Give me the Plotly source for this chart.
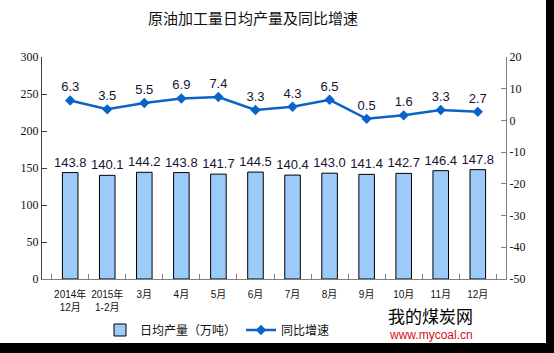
import plotly.graph_objects as go

categories = ["2014年<br>12月", "2015年<br>1-2月", "3月", "4月", "5月", "6月",
              "7月", "8月", "9月", "10月", "11月", "12月"]
daily_output = [143.8, 140.1, 144.2, 143.8, 141.7, 144.5, 140.4, 143.0, 141.4, 142.7, 146.4, 147.8]
yoy_growth = [6.3, 3.5, 5.5, 6.9, 7.4, 3.3, 4.3, 6.5, 0.5, 1.6, 3.3, 2.7]
left_ticks = [0, 50, 100, 150, 200, 250, 300]
right_ticks = [-50, -40, -30, -20, -10, 0, 10, 20]

W, H = 554, 353
L, R, T, B = 42, 48, 57, 74
pw, ph = W - L - R, H - T - B

def px(x):
    return (x - L) / pw

def py(y):
    return (H - B - y) / ph

fig = go.Figure()
fig.add_trace(go.Bar(
    x=categories, y=daily_output, name="日均产量（万吨）",
    marker=dict(color="#9CCBFA", line=dict(color="#000000", width=1)),
    width=0.42,
    text=[f"{v:.1f}" for v in daily_output], textposition="outside",
    constraintext="none",
    textfont=dict(family="Arial, Liberation Sans", size=13, color="#141433"),
    cliponaxis=False,
))
fig.add_trace(go.Scatter(
    x=categories, y=yoy_growth, name="同比增速", yaxis="y2",
    mode="lines+markers+text",
    line=dict(color="#0A64C8", width=2.5),
    marker=dict(symbol="diamond", size=8, color="#0A64C8"),
    text=[f"{v:.1f}" for v in yoy_growth], textposition="top center",
    textfont=dict(family="Arial, Liberation Sans", size=13, color="#141433"),
    cliponaxis=False,
))

fig.update_layout(
    width=W, height=H,
    margin=dict(l=L, r=R, t=T, b=B, autoexpand=False),
    paper_bgcolor="#000000",
    plot_bgcolor="rgba(0,0,0,0)",
    title=dict(text="原油加工量日均产量及同比增速", x=px(254), xanchor="center",
               y=1 - 19 / H, yanchor="middle",
               font=dict(family="Noto Sans CJK SC", size=15, color="#111111")),
    xaxis=dict(showline=True, linecolor="#808080", linewidth=1,
               ticks="inside", tickson="boundaries", ticklen=5, tickcolor="#808080",
               tickangle=0, ticklabelstandoff=6, automargin=False,
               tickfont=dict(family="Liberation Sans, Noto Sans CJK SC", size=10, color="#111111"),
               showgrid=False),
    yaxis=dict(range=[0, 300], tickvals=left_ticks, showline=True, linecolor="#404040",
               ticks="inside", ticklen=5, tickcolor="#404040", showgrid=False, zeroline=False,
               automargin=False,
               tickfont=dict(family="Liberation Serif", size=12, color="#111111")),
    yaxis2=dict(range=[-50, 20], tickvals=right_ticks, ticktext=[str(v) for v in right_ticks],
                overlaying="y", side="right", automargin=False,
                showline=True, linecolor="#808080", ticks="inside", ticklen=5,
                tickcolor="#808080", showgrid=False, zeroline=False,
                tickfont=dict(family="Liberation Serif", size=12, color="#111111")),
    legend=dict(orientation="h", x=px(100), y=py(330), xanchor="left", yanchor="middle",
                font=dict(family="Noto Sans CJK SC", size=12, color="#111111"),
                bgcolor="rgba(0,0,0,0)"),
    shapes=[dict(type="rect", xref="paper", yref="paper", layer="below",
                 x0=px(0), x1=px(546), y0=py(343), y1=py(0),
                 fillcolor="#FFFFFF", line=dict(width=0))],
    annotations=[
        dict(text="我的煤炭网", xref="paper", yref="paper", x=px(474), y=py(302),
             yanchor="top", borderpad=0,
             showarrow=False, font=dict(family="Noto Sans CJK SC", size=17, color="#000000")),
        dict(text="www.mycoal.cn", xref="paper", yref="paper", x=px(474), y=py(343),
             yanchor="bottom", borderpad=0,
             showarrow=False, font=dict(family="Arial, Liberation Sans", size=12, color="#D0101A")),
    ],
)

fig.write_html("out.html")
